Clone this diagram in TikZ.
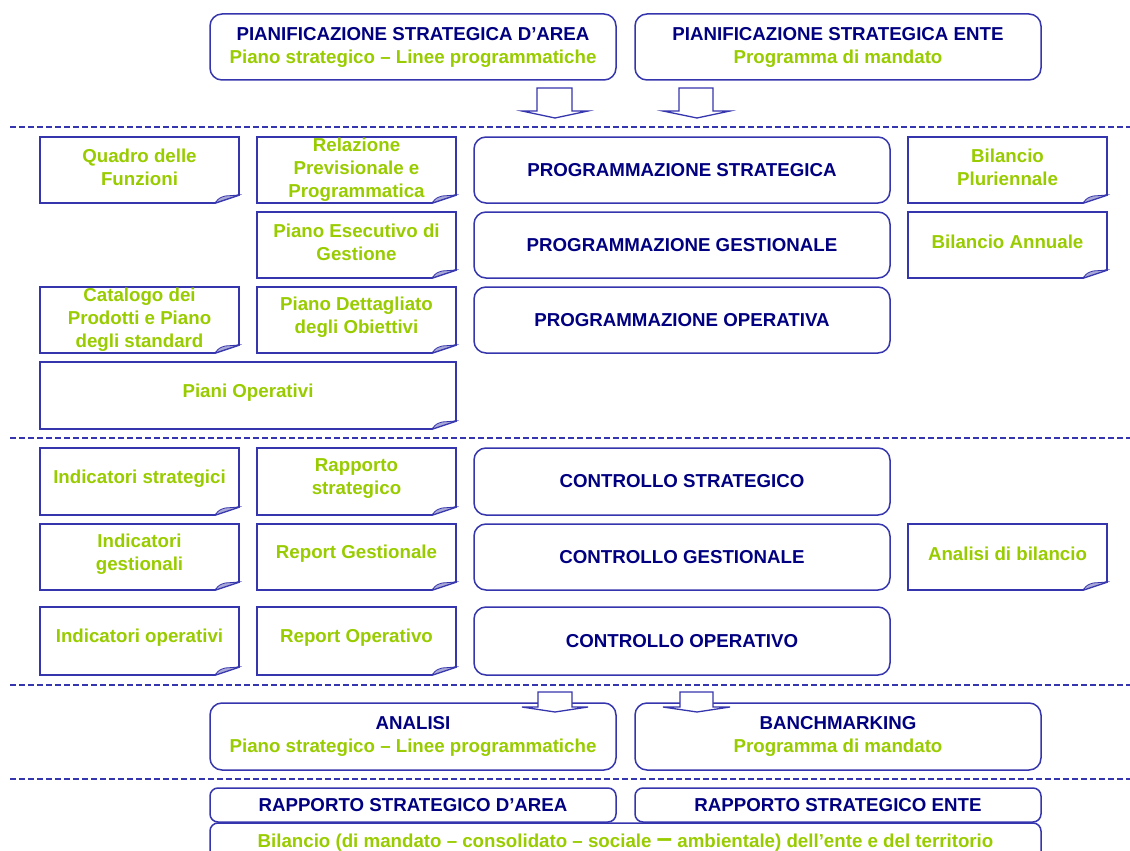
\documentclass[tikz,border=0pt]{standalone}
\usepackage{fontspec}
\setmainfont{Liberation Sans}
\definecolor{navy}{HTML}{000080}
\definecolor{lgreen}{HTML}{99CC00}
\definecolor{lineblue}{HTML}{3535AD}
\definecolor{foldc}{HTML}{AAAAD8}
\tikzset{
  txt/.style={font=\fontsize{18.7}{23}\selectfont\bfseries, align=center, inner sep=0pt},
  rbox/.style={txt, draw=lineblue, line width=1.5pt, rounded corners=12pt, fill=white, text=navy},
  docline/.style={draw=lineblue, line width=1.8pt, fill=white, line join=miter},
  foldpart/.style={draw=lineblue, line width=0.8pt, fill=foldc},
  doctext/.style={txt, text=lgreen},
  sepline/.style={draw=lineblue, line width=1.2pt, dash pattern=on 6pt off 3pt},
  blockarrow/.style={draw=lineblue, line width=1.3pt, fill=white, line join=miter},
}
\newcommand\docbox[7][-3]{%
  \path[docline] (#3,#4) -- (#5,#4) -- (#5,{#6-8}) -- ({#5-24},#6) -- (#3,#6) -- cycle;
  \path[foldpart] ({#5-24},#6) .. controls ({#5-20},{#6-5}) .. ({#5-14},{#6-7}) -- (#5,{#6-8}) -- cycle;
  \node[doctext] (#2) at ({(#3+#5)/2},{(#4+#6)/2+#1}) {#7};
}
\begin{document}
\begin{tikzpicture}[x=1pt,y=-1pt]
\useasboundingbox[fill=white] (0,0) rectangle (1130,851);

% separators
\foreach \yy in {127,438,685,779} \path[sepline] (10,\yy) -- (1130,\yy);

% top boxes
\node[rbox, minimum width=406, minimum height=66] (pa) at (413,47)
  {PIANIFICAZIONE STRATEGICA D’AREA\\\textcolor{lgreen}{Piano strategico – Linee programmatiche}};
\node[rbox, minimum width=406, minimum height=66] (pe) at (838,47)
  {PIANIFICAZIONE STRATEGICA ENTE\\\textcolor{lgreen}{Programma di mandato}};

% top arrows
\path[blockarrow] (537,88) -- (572,88) -- (572,111) -- (588,111) -- (555,118) -- (522,111) -- (537,111) -- cycle;
\path[blockarrow] (679,88) -- (713,88) -- (713,111) -- (730,111) -- (697,118) -- (663,111) -- (679,111) -- cycle;

% programmazione section
\docbox{qf}{40}{137}{239}{203}{Quadro delle\\Funzioni}
\docbox[0]{rpp}{257}{137}{456}{203}{Relazione\\Previsionale e\\Programmatica}
\docbox{bp}{908}{137}{1107}{203}{Bilancio\\Pluriennale}
\docbox{peg}{257}{212}{456}{278}{Piano Esecutivo di\\Gestione}
\docbox{ba}{908}{212}{1107}{278}{Bilancio Annuale}
\docbox[0]{cat}{40}{287}{239}{353}{Catalogo dei\\Prodotti e Piano\\degli standard}
\docbox{pdo}{257}{287}{456}{353}{Piano Dettagliato\\degli Obiettivi}
\docbox{po}{40}{362}{456}{429}{Piani Operativi}

\node[rbox, minimum width=416, minimum height=66] (ps) at (682,170) {PROGRAMMAZIONE STRATEGICA};
\node[rbox, minimum width=416, minimum height=66] (pg) at (682,245) {PROGRAMMAZIONE GESTIONALE};
\node[rbox, minimum width=416, minimum height=66] (pop) at (682,320) {PROGRAMMAZIONE OPERATIVA};

% controllo section
\docbox{is}{40}{448}{239}{515}{Indicatori strategici}
\docbox{rs}{257}{448}{456}{515}{Rapporto\\strategico}
\docbox{ig}{40}{524}{239}{590}{Indicatori\\gestionali}
\docbox{rg}{257}{524}{456}{590}{Report Gestionale}
\docbox{ab}{908}{524}{1107}{590}{Analisi di bilancio}
\docbox{io}{40}{607}{239}{675}{Indicatori operativi}
\docbox{ro}{257}{607}{456}{675}{Report Operativo}

\node[rbox, minimum width=416, minimum height=67] (cs) at (682,481.5) {CONTROLLO STRATEGICO};
\node[rbox, minimum width=416, minimum height=66] (cg) at (682,557) {CONTROLLO GESTIONALE};
\node[rbox, minimum width=416, minimum height=68] (co) at (682,641) {CONTROLLO OPERATIVO};

% analisi
\node[rbox, minimum width=406, minimum height=67] (an) at (413,736.5)
  {ANALISI\\\textcolor{lgreen}{Piano strategico – Linee programmatiche}};
\node[rbox, minimum width=406, minimum height=67] (bm) at (838,736.5)
  {BANCHMARKING\\\textcolor{lgreen}{Programma di mandato}};

\path[blockarrow] (538,692) -- (572,692) -- (572,707) -- (588,707) -- (555,712) -- (522,707) -- (538,707) -- cycle;
\path[blockarrow] (680,692) -- (713,692) -- (713,707) -- (730,707) -- (697,712) -- (663,707) -- (680,707) -- cycle;

% rapporti
\node[rbox, minimum width=406, minimum height=34, rounded corners=8pt] (rsa) at (413,805) {RAPPORTO STRATEGICO D’AREA};
\node[rbox, minimum width=406, minimum height=34, rounded corners=8pt] (rse) at (838,805) {RAPPORTO STRATEGICO ENTE};
\node[rbox, minimum width=831, minimum height=40, text=lgreen, rounded corners=8pt] (bil) at (625.5,843)
  {Bilancio (di mandato – consolidato – sociale {\fontsize{28}{23}\selectfont –} ambientale) dell’ente e del territorio};
\end{tikzpicture}
\end{document}
